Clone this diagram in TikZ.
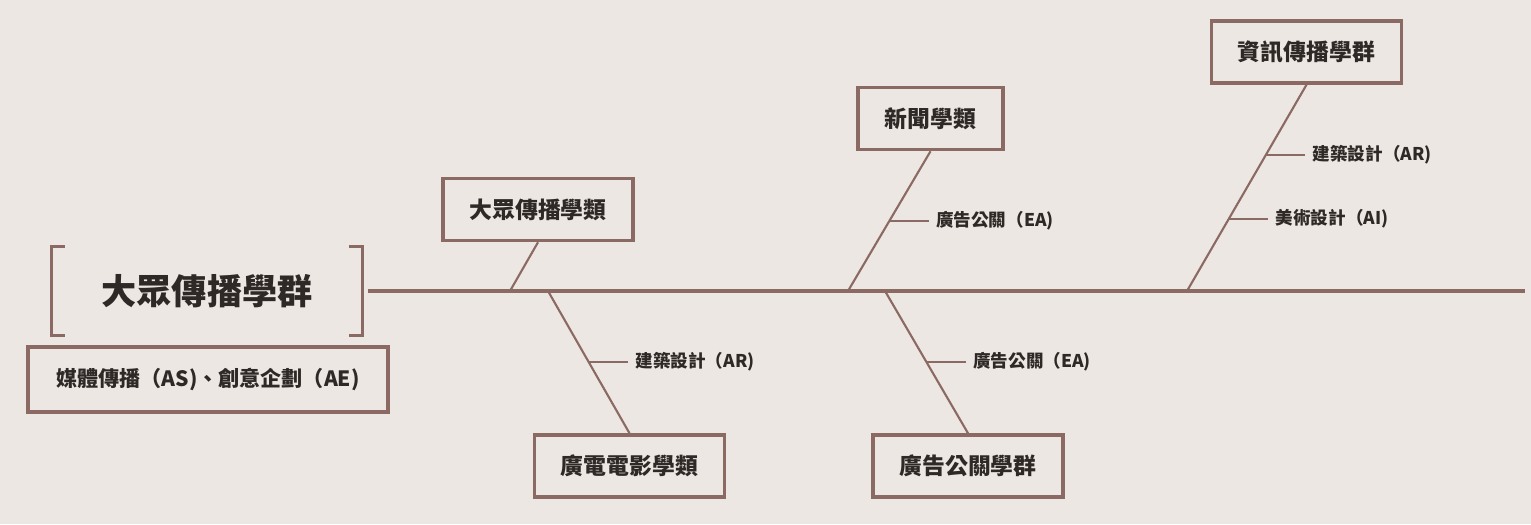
\documentclass[tikz,border=0pt]{standalone}
\usepackage{fontspec}
\newfontfamily\cjk{Noto Sans CJK TC}
\usepackage{tikz}
\usetikzlibrary{arrows.meta,positioning,calc}
\usepackage{xcolor}
\definecolor{bgtone}{HTML}{EDE7E3}
\definecolor{bone}{HTML}{8A6A62}
\definecolor{ink}{HTML}{2E2826}

\begin{document}
\begin{tikzpicture}[
  x=0.02cm, y=-0.02cm,
  every node/.style={font=\cjk\bfseries, text=ink},
  group/.style={rectangle, draw=bone, line width=2pt, minimum width=3.8cm,
                minimum height=1.24cm, align=center, font=\cjk\bfseries\fontsize{13}{15}\selectfont},
  lbl/.style={inner sep=0pt, anchor=west, font=\cjk\bfseries\fontsize{10}{12}\selectfont},
  spine/.style={draw=bone, line width=1.9pt},
  rib/.style={draw=bone, line width=1.2pt},
  brk/.style={draw=bone, line width=2pt}
]
% background and page size
\fill[bgtone] (0,0) rectangle (1531,524);

% Head of the fish
\node[minimum width=6.2cm, minimum height=1.76cm, inner sep=0pt,
      font=\cjk\bfseries\fontsize{20}{24}\selectfont] (head) at (207,291) {大眾傳播學群};
\draw[brk] ([xshift=0.26cm]head.north west) -- (head.north west) -- (head.south west) -- ([xshift=0.26cm]head.south west);
\draw[brk] ([xshift=-0.26cm]head.north east) -- (head.north east) -- (head.south east) -- ([xshift=-0.26cm]head.south east);
\node[group, minimum width=7.2cm, minimum height=1.3cm,
      font=\cjk\bfseries\fontsize{12}{14}\selectfont] (sub) at (208,379.5)
  {媒體傳播（AS)、創意企劃（AE)};

% Spine
\coordinate (sp0) at (368,291);
\coordinate (sp1) at (1525,291);
\draw[spine] (sp0) -- (sp1);

% Groups above and below
\node[group] (dzc) at (538,209.5) {大眾傳播學類};
\node[group] (gdy) at (629.5,466) {廣電電影學類};
\node[group, minimum width=2.9cm] (xw) at (930.5,118.5) {新聞學類};
\node[group] (ggg) at (968,466) {廣告公關學群};
\node[group] (zx) at (1306.5,52) {資訊傳播學群};

% Joints on the spine
\coordinate (j1) at (510,291);
\coordinate (j2) at (548,291);
\coordinate (j3) at (848,291);
\coordinate (j4) at (885,291);
\coordinate (j5) at (1187,291);

% Bones
\draw[rib] (dzc.south) -- (j1);
\draw[rib] (j2) -- (gdy.north);
\draw[rib] (xw.south) -- (j3);
\draw[rib] (j4) -- (ggg.north);
\draw[rib] (zx.south) -- (j5);

% Small ribs with labels
\coordinate (t1) at ($(j2)!0.5!(gdy.north)$);
\node[lbl, right=26.5pt of t1] (ar1) {建築設計（AR)};
\draw[rib] (t1) -- ([xshift=-4pt]ar1.west);

\coordinate (t2) at ($(xw.south)!0.5!(j3)$);
\node[lbl, right=26.5pt of t2] (ea1) {廣告公關（EA)};
\draw[rib] (t2) -- ([xshift=-4pt]ea1.west);

\coordinate (t3) at ($(j4)!0.5!(ggg.north)$);
\node[lbl, right=26.5pt of t3] (ea2) {廣告公關（EA)};
\draw[rib] (t3) -- ([xshift=-4pt]ea2.west);

\coordinate (t4) at ($(zx.south)!0.34!(j5)$);
\node[lbl, right=26.5pt of t4] (ar2) {建築設計（AR)};
\draw[rib] (t4) -- ([xshift=-4pt]ar2.west);

\coordinate (t5) at ($(zx.south)!0.65!(j5)$);
\node[lbl, right=26.5pt of t5] (ai) {美術設計（AI)};
\draw[rib] (t5) -- ([xshift=-4pt]ai.west);
\end{tikzpicture}
\end{document}
